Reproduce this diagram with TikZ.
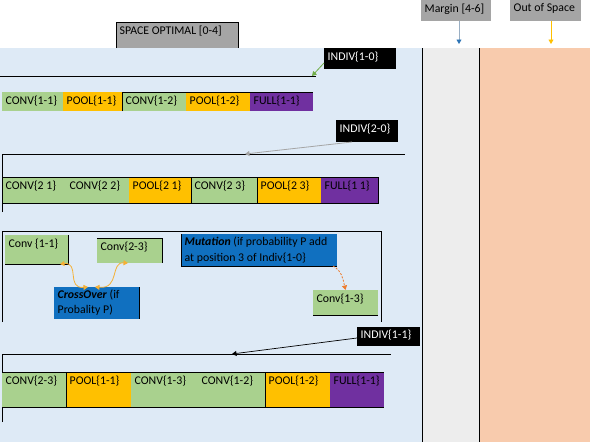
\documentclass[tikz,border=0pt]{standalone}
\usepackage{fontspec}
\setmainfont{Carlito}
\usetikzlibrary{arrows.meta}
\definecolor{bgblue}{HTML}{DEEAF6}
\definecolor{cgreen}{HTML}{A9D18E}
\definecolor{corange}{HTML}{FFC000}
\definecolor{cpurple}{HTML}{7030A0}
\definecolor{cblue}{HTML}{1070C0}
\definecolor{cgray}{HTML}{A5A5A5}
\definecolor{cmargin}{HTML}{EDEDED}
\definecolor{csalmon}{HTML}{F8CBAD}
\definecolor{agreen}{HTML}{70AD47}
\definecolor{ablue}{HTML}{2E75B6}
\definecolor{ablueline}{HTML}{9AAFC4}
\definecolor{aorange}{HTML}{F5B035}
\definecolor{adark}{HTML}{ED7D31}
\begin{document}
\begin{tikzpicture}[x=1pt,y=-1pt,
  cellbox/.style n args={3}{anchor=north west, inner sep=0pt, outer sep=0pt, fill=#1, minimum width=#2, minimum height=#3},
  lbl/.style={anchor=north west, inner xsep=3.5pt, inner ysep=4pt, font=\fontsize{11.8}{15.5}\selectfont, align=left},
  wlbl/.style={lbl, text=white},
  bline/.style={draw=black, line width=0.8pt},
  tip/.style={-{Triangle[width=5pt,length=4.5pt]}}
]
\useasboundingbox (0,0) rectangle (590,442);
% regions
\fill[bgblue] (0,48) rectangle (422,442);
\fill[cmargin] (422,48) rectangle (479,442);
\fill[csalmon] (479,48) rectangle (590,442);
\draw[bline] (422,48) -- (422,442);
\draw[bline] (479,48) -- (479,442);

% top labels
\node[cellbox={cgray}{122pt}{26pt}, label={[lbl]north west:SPACE OPTIMAL [0-4]}] (sp) at (116,22) {};
\draw[bline] (sp.south west) |- (sp.north east) -- (sp.south east);
\node[cellbox={cgray}{70pt}{21pt}, label={[lbl, inner ysep=3.5pt]north west:Margin [4-6]}] (mg) at (421,0) {};
\node[cellbox={cgray}{71pt}{21pt}, label={[lbl, inner ysep=3.5pt]north west:Out of Space}] (os) at (510,0) {};
\coordinate (mgend) at (459,44);
\coordinate (osend) at (551,44);
\draw[ablueline, line width=0.8pt, -{Triangle[width=5pt,length=4.5pt,color=ablue]}] ([xshift=3pt]mg.south) -- (mgend);
\draw[corange, line width=0.8pt, tip] ([xshift=5.5pt]os.south) -- (osend);

% ---------- individual 1-0
\draw[bline] (0,76) -- (316,76);
\node[cellbox={black}{72pt}{21pt}, label={[wlbl]north west:INDIV\{1-0\}}] (i10) at (324,48) {};
\coordinate (l1) at (312,76);
\draw[agreen, line width=0.8pt, tip] ([yshift=-4.5pt]i10.west) -- (l1);

\node[cellbox={cgreen}{61pt}{19pt}, label={[lbl, inner ysep=3.5pt]north west:CONV\{1-1\}}] (r1a) at (2,92) {};
\node[cellbox={corange}{59pt}{19pt}, label={[lbl, inner ysep=3.5pt]north west:POOL\{1-1\}}] (r1b) at (63,92) {};
\node[cellbox={cgreen}{64pt}{19pt}, label={[lbl, inner ysep=3.5pt]north west:CONV\{1-2\}}] (r1c) at (122,92) {};
\node[cellbox={corange}{64pt}{19pt}, label={[lbl, inner ysep=3.5pt]north west:POOL\{1-2\}}] (r1d) at (186,92) {};
\node[cellbox={cpurple}{63pt}{19pt}, label={[lbl, inner ysep=3.5pt]north west:FULL\{1-1\}}] (r1e) at (250,92) {};
\draw[bline] (r1c.south west) -- (r1c.north west) -- (r1e.north east);

% ---------- individual 2-0
\draw[bline] (2,212) -- (2,154) -- (405,154);
\node[cellbox={black}{62pt}{22pt}, label={[wlbl]north west:INDIV\{2-0\}}] (i20) at (336,120) {};
\coordinate (l2) at (245,154);
\draw[cgray, line width=0.8pt, tip] ([xshift=-15pt]i20.south) -- (l2);

\node[cellbox={cgreen}{64pt}{26pt}, label={[lbl]north west:CONV\{2 1\}}] (r2a) at (2,177) {};
\node[cellbox={cgreen}{63pt}{26pt}, label={[lbl]north west:CONV\{2 2\}}] (r2b) at (66,177) {};
\node[cellbox={corange}{62pt}{26pt}, label={[lbl]north west:POOL\{2 1\}}] (r2c) at (129,177) {};
\node[cellbox={cgreen}{66pt}{26pt}, label={[lbl]north west:CONV\{2 3\}}] (r2d) at (191,177) {};
\node[cellbox={corange}{64pt}{26pt}, label={[lbl]north west:POOL\{2 3\}}] (r2e) at (257,177) {};
\node[cellbox={cpurple}{57pt}{26pt}, label={[lbl]north west:FULL\{1 1\}}] (r2f) at (321,177) {};
\draw[bline] (r2a.north west) rectangle (r2f.south east);
\draw[bline] (r2d.north west) -- (r2d.south west);
\draw[bline] (r2e.north west) -- (r2e.south west);

% ---------- operators
\draw[bline] (2,322) -- (2,231) -- (381,231) -- (381,322);
\node[cellbox={cgreen}{63pt}{29pt}, label={[lbl]north west:Conv \{1-1\}}] (cv11) at (5,235) {};
\draw[bline] (cv11.north east) -- (cv11.south east) -- (cv11.south west);
\node[cellbox={cgreen}{65pt}{25pt}, label={[lbl]north west:Conv\{2-3\}}] (cv23) at (97,238) {};
\draw[bline] (cv23.north west) -- (cv23.north east) -- (cv23.south east);
\node[cellbox={cblue}{85pt}{32pt}, label={[lbl, inner ysep=2.5pt]north west:\textbf{\textit{CrossOver}} (if\\Probality P)}] (cross) at (54,287) {};
\draw[bline] (cross.north east) -- (cross.south east);
\node[cellbox={cblue}{156pt}{32pt}, label={[lbl, inner ysep=3pt]north west:\textbf{\textit{Mutation}} (if probability P add\\at position 3 of Indiv\{1-0\}}] (mut) at (181,234) {};
\draw[bline] (mut.north west) -- (mut.south west) -- (mut.south east);
\node[cellbox={cgreen}{65pt}{25pt}, label={[lbl]north west:Conv\{1-3\}}] (c13) at (313,290) {};
\draw[bline] (c13.south west) -- (c13.south east);

\draw[aorange, line width=0.8pt, {Triangle[width=5pt,length=4.5pt]}-{Triangle[width=5pt,length=4.5pt]}]
  ([xshift=23.5pt]cv11.south) .. controls (80,262) and (66,289) .. ([xshift=-8.5pt]cross.north);
\draw[aorange, line width=0.8pt, {Triangle[width=5pt,length=4.5pt]}-{Triangle[width=5pt,length=4.5pt]}]
  ([xshift=-1.5pt]cv23.south) .. controls (110,262) and (120,289) .. ([xshift=-1.5pt]cross.north);
\draw[adark, line width=0.8pt, dashed, dash pattern=on 2pt off 1.5pt, tip]
  ([xshift=-4pt]mut.south east) .. controls (342,271) and (343,279) .. (c13.north);

% ---------- individual 1-1
\draw[bline] (2,422) -- (2,354) -- (391,354);
\node[cellbox={black}{63pt}{19pt}, label={[wlbl, inner ysep=3pt]north west:INDIV\{1-1\}}] (i11) at (357,327) {};
\coordinate (l4) at (232,354);
\draw[black, line width=0.7pt, tip] ([yshift=-1.5pt]i11.west) -- (l4);

\node[cellbox={cgreen}{64pt}{35pt}, label={[lbl]north west:CONV\{2-3\}}] (r4a) at (2,372) {};
\node[cellbox={corange}{65pt}{35pt}, label={[lbl]north west:POOL\{1-1\}}] (r4b) at (66,372) {};
\node[cellbox={cgreen}{67pt}{35pt}, label={[lbl]north west:CONV\{1-3\}}] (r4c) at (131,372) {};
\node[cellbox={cgreen}{67pt}{35pt}, label={[lbl]north west:CONV\{1-2\}}] (r4d) at (198,372) {};
\node[cellbox={corange}{65pt}{35pt}, label={[lbl]north west:POOL\{1-2\}}] (r4e) at (265,372) {};
\node[cellbox={cpurple}{54pt}{35pt}, label={[lbl]north west:FULL\{1-1\}}] (r4f) at (330,372) {};
\draw[bline] (r4a.north west) -- (r4f.north east);
\draw[bline] (r4a.south west) -- (r4f.south east);
\draw[bline] (r4b.north west) -- (r4b.south west);
\draw[bline] (r4e.north west) -- (r4e.south west);
\end{tikzpicture}
\end{document}
